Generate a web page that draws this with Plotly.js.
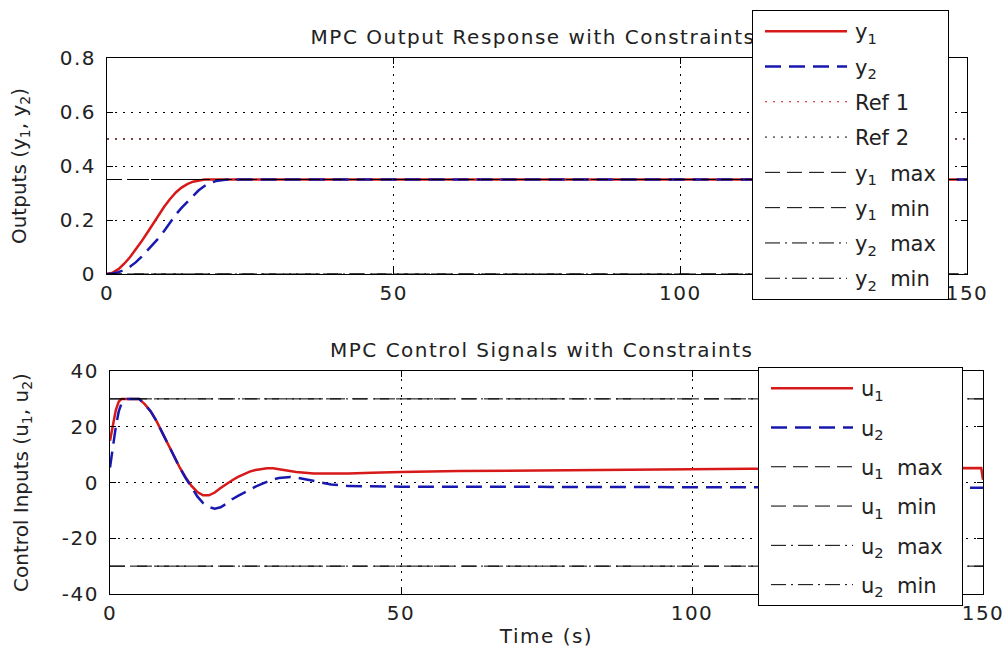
<!DOCTYPE html>
<html><head><meta charset="utf-8">
<script src="https://cdn.plot.ly/plotly-3.0.1.min.js"></script>
<style>
body{margin:0;background:#fff}
#chart .gtitle, #chart .annotation-text, #chart .xtick text, #chart .ytick text, #chart .x2tick text, #chart .y2tick text, #chart .g-x2title text { letter-spacing: 1.5px; }
</style>
</head><body>
<div id="chart" style="width:1007px;height:658px"></div>
<script>
// ---- data ----
const timeY1 = [0,1,2,3,4,5,6,7,8,9,10,11,12,13,14,15,16,17,18,20,30,50,75,100,125,150];
const outY1  = [0,0.005,0.018,0.038,0.062,0.09,0.12,0.152,0.185,0.218,0.25,0.278,0.302,0.32,0.333,0.342,0.347,0.35,0.35,0.35,0.35,0.35,0.35,0.35,0.35,0.35];
const timeY2 = [0,1,2,3,4,5,6,7,8,9,10,11,12,13,14,15,16,17,18,19,20,21,25,30,50,75,100,125,150];
const outY2  = [0,0.002,0.007,0.015,0.027,0.043,0.063,0.085,0.108,0.133,0.16,0.19,0.22,0.245,0.268,0.29,0.31,0.326,0.337,0.344,0.348,0.35,0.35,0.35,0.35,0.35,0.35,0.35,0.35];

const timeU1 = [0,0.5,1,1.5,2,3,4,5,5.5,6,7,8,9,10,11,12,13,14,15,16,17,18,19,20,21,22,23,24,25,26,27,28,29,30,32,35,38,41,45,50,60,70,80,90,100,110,120,130,140,149.7,150];
const inU1   = [15,21,26,29,30,30,30,30,29,28,25.5,22,17.8,13.5,9.3,5.3,1.8,-1.2,-3.4,-4.6,-4.6,-3.6,-2,-0.5,0.8,2,3,3.9,4.5,4.9,5.1,5.1,4.8,4.4,3.8,3.2,3.1,3.2,3.5,3.8,4.1,4.3,4.5,4.6,4.8,4.9,5,5.1,5.2,5.2,1];
const timeU2 = [0,0.5,1,1.5,2,3,4,5,5.5,6,7,8,9,10,11,12,13,14,15,16,17,18,19,20,21,22,23,24,25,26,27,28,29,30,31,32,34,36,38,41,45,50,60,80,100,120,140,150];
const inU2   = [5.4,13,20,25.5,28.5,30,30,30,29,28,25.5,22,17.8,13.5,9.3,5.3,1.6,-1.8,-5,-7.4,-8.8,-9.4,-8.9,-7.6,-6,-4.8,-3.6,-2.5,-1.5,-0.6,0.3,1.1,1.6,1.9,2,1.8,1,0.1,-0.7,-1.3,-1.5,-1.5,-1.5,-1.6,-1.7,-1.8,-1.9,-1.9];

const timeSpan = [0,150];
const refNames = ['Ref 1','Ref 2'];
const refValues = [0.5,0.5];
const yLimitNames = ['y<sub>1</sub>\u00a0 max','y<sub>1</sub>\u00a0 min','y<sub>2</sub>\u00a0 max','y<sub>2</sub>\u00a0 min'];
const yLimitValues = [0.35,0,0.35,0];
const uLimitNames = ['u<sub>1</sub>\u00a0 max','u<sub>1</sub>\u00a0 min','u<sub>2</sub>\u00a0 max','u<sub>2</sub>\u00a0 min'];
const uLimitValues = [30,-30,30,-30];

const yTicks = [0,0.2,0.4,0.6,0.8];
const yTickText = ['0','0.2','0.4','0.6','0.8'];
const uTicks = [-40,-20,0,20,40];
const uTickText = ['-40','-20','0','20','40'];
const tTicks = [0,50,100,150];
const tTickText = ['0','50','100','150'];

// ---- styling ----
const F = 'DejaVu Sans, Arial, sans-serif';
const RED = 'rgb(215,25,25)';
const BLUE = 'rgb(25,25,175)';
const DASH = '16px,8px';
const KDASH = '15px,7px';
const DASHDOT = '15px,5px,2px,5px';
const DOT = '2px,6px';

const traces = [];
let g = 0;
function add(tr, top){
  tr.legendgroup = 'g' + (g++);
  tr.legend = top ? 'legend' : 'legend2';
  tr.xaxis = top ? 'x' : 'x2';
  tr.yaxis = top ? 'y' : 'y2';
  tr.mode = 'lines';
  tr.hoverinfo = 'skip';
  traces.push(tr);
}
const flat = (v) => timeSpan.map(() => v);
const pad = '\u00a0';

add({x: timeY1, y: outY1, name: 'y<sub>1</sub>', line:{color:RED, width:2.5}}, true);
add({x: timeY2, y: outY2, name: 'y<sub>2</sub>', line:{color:BLUE, width:2.5, dash:DASH}}, true);
add({x: timeSpan, y: flat(refValues[0]), name: refNames[0], line:{color:RED, width:1, dash:DOT}}, true);
add({x: timeSpan, y: flat(refValues[1]), name: refNames[1], line:{color:'#000', width:1, dash:DOT}}, true);
yLimitNames.forEach((n,i)=> add({x: timeSpan, y: flat(yLimitValues[i]), name: n + pad, line:{color:'#000', width:1, dash: i<2?KDASH:DASHDOT}}, true));

add({x: timeU1, y: inU1, name: 'u<sub>1</sub>', line:{color:RED, width:2.5}}, false);
add({x: timeU2, y: inU2, name: 'u<sub>2</sub>', line:{color:BLUE, width:2.5, dash:DASH}}, false);
uLimitNames.forEach((n,i)=> add({x: timeSpan, y: flat(uLimitValues[i]), name: n + pad + pad, line:{color:'#000', width:1, dash: i<2?KDASH:DASHDOT}}, false));

const tickFont = {family:F, size:20, color:'#222'};
const ax = () => ({showline:true, linecolor:'#000', linewidth:1, mirror:'ticks', ticks:'inside', ticklen:6, tickcolor:'#000',
  showgrid:true, gridcolor:'#000', griddash:DOT, gridwidth:1, zeroline:false, tickfont:tickFont, fixedrange:true});

const W = 1007, H = 658;
const legendFont = {family:F,size:21,color:'#222'};
const layout = {
  width: W, height: H, margin:{l:0,r:0,t:0,b:0}, paper_bgcolor:'#fff', plot_bgcolor:'#fff', showlegend:true,
  font:{family:F, size:20, color:'#222'},
  title:{text:'MPC Output Response with Constraints', x:533/W, xanchor:'center', y:1-37/H, yanchor:'middle', font:{family:F,size:20,color:'#222'}},
  xaxis: Object.assign(ax(), {domain:[107/W, 967/W], range:[0,150], tickvals:tTicks, ticktext:tTickText, anchor:'y', ticklabelstandoff:1}),
  yaxis: Object.assign(ax(), {domain:[1-274/H, 1-58/H], range:[0,0.8], tickvals:yTicks, ticktext:yTickText, anchor:'x', ticklabelstandoff:6,
    title:{text:'Outputs (y<sub>1</sub>, y<sub>2</sub>)', font:{family:F,size:20,color:'#222'}, standoff:32}}),
  xaxis2: Object.assign(ax(), {domain:[110/W, 983/W], range:[0,150], tickvals:tTicks, ticktext:tTickText, anchor:'y2', ticklabelstandoff:1,
    title:{text:'Time (s)', font:{family:F,size:20,color:'#222'}, standoff:4}}),
  yaxis2: Object.assign(ax(), {domain:[1-594/H, 1-371/H], range:[-40,40], tickvals:uTicks, ticktext:uTickText, anchor:'x2', ticklabelstandoff:6,
    title:{text:'Control Inputs (u<sub>1</sub>, u<sub>2</sub>)', font:{family:F,size:20,color:'#222'}, standoff:32}}),
  legend: {x:752/W, y:1-10/H, xanchor:'left', yanchor:'top', bgcolor:'#fff', bordercolor:'#000', borderwidth:1,
    font:legendFont, tracegroupgap:5, itemwidth:92, traceorder:'grouped'},
  legend2: {x:758/W, y:1-367/H, xanchor:'left', yanchor:'top', bgcolor:'#fff', bordercolor:'#000', borderwidth:1,
    font:legendFont, tracegroupgap:9, itemwidth:92, traceorder:'grouped'},
  annotations:[{text:'MPC Control Signals with Constraints', xref:'paper', yref:'paper', x:541/W, y:1-350/H, xanchor:'center', yanchor:'middle', showarrow:false, font:{family:F,size:20,color:'#222'}}]
};

Plotly.newPlot('chart', traces, layout, {staticPlot:true, displayModeBar:false}).then(function(gd){
  gd.querySelectorAll('.legendlines path').forEach(function(p){ p.setAttribute('d','M12,0h82'); });
  // keep the main title beneath the legend box, as in the reference
  const t = gd.querySelector('.g-gtitle');
  const lg = gd.querySelector('.legend');
  if (t && lg && lg.parentNode) lg.parentNode.insertBefore(t, lg.parentNode.firstChild);
});
</script>
</body></html>
